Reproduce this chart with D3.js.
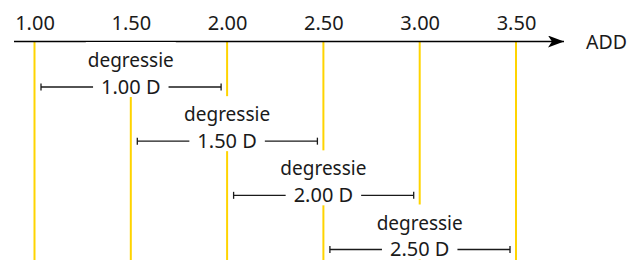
<!DOCTYPE html>
<html>
<head>
<meta charset="utf-8">
<script src="https://cdn.jsdelivr.net/npm/d3@7"></script>
<style>
  body { margin: 0; background: #fff; }
  svg { display: block; font-family: "Noto Sans", sans-serif; }
</style>
</head>
<body>
<script>
// ADD values (ticks) and their labels
var addValues = [1.0, 1.5, 2.0, 2.5, 3.0, 3.5];
var tickLabels = ["1.00", "1.50", "2.00", "2.50", "3.00", "3.50"];
// degression ranges: from ADD, to ADD, label
var degStart = [1.0, 1.5, 2.0, 2.5];
var degEnd = [2.0, 2.5, 3.0, 3.5];
var degLabels = ["1.00 D", "1.50 D", "2.00 D", "2.50 D"];
var axisTitle = "ADD";
var degTitle = "degressie";

var width = 631, height = 260;
var axisY = 41.5;

var x = d3.scaleLinear()
  .domain([1.0, 3.5])
  .range([34.5, 516]);

var row = d3.scaleLinear()
  .domain([0, 3])
  .range([87, 249.5]);

var svg = d3.select("body").append("svg")
  .attr("width", width)
  .attr("height", height);

var yellow = "#ffd400";
var ink = "#1a1a1a";

// vertical guide lines
svg.append("g")
  .selectAll("line")
  .data(addValues)
  .enter().append("line")
  .attr("x1", function (d) { return x(d); })
  .attr("x2", function (d) { return x(d); })
  .attr("y1", axisY)
  .attr("y2", height)
  .attr("stroke", yellow)
  .attr("stroke-width", 2);

// arrow marker
svg.append("defs").append("marker")
  .attr("id", "arrow")
  .attr("viewBox", "0 0 16 12")
  .attr("refX", 16)
  .attr("refY", 6)
  .attr("markerUnits", "userSpaceOnUse")
  .attr("markerWidth", 16)
  .attr("markerHeight", 12)
  .attr("orient", "auto")
  .append("path")
  .attr("d", "M0,0 L16,6 L0,12 L4,6 Z")
  .attr("fill", "#000");

// axis labels via d3.axisTop
var axis = d3.axisTop(x)
  .tickValues(addValues)
  .tickFormat(function (d, i) { return tickLabels[i]; })
  .tickSize(0)
  .tickPadding(12);

var gAxis = svg.append("g")
  .attr("transform", "translate(0," + axisY + ")")
  .call(axis);

gAxis.select(".domain").remove();
gAxis.selectAll("text")
  .attr("font-size", 20)
  .attr("font-family", "Noto Sans, sans-serif")
  .attr("fill", ink);

svg.append("line")
  .attr("x1", 14)
  .attr("x2", 564)
  .attr("y1", axisY)
  .attr("y2", axisY)
  .attr("stroke", "#000")
  .attr("stroke-width", 1.6)
  .attr("marker-end", "url(#arrow)");

svg.append("text")
  .attr("x", 586)
  .attr("y", axisY + 7)
  .attr("font-size", 19.5)
  .attr("fill", ink)
  .text(axisTitle);

// degression blocks
var blocks = svg.append("g")
  .selectAll("g")
  .data(degStart)
  .enter().append("g");

blocks.each(function (d, i) {
  var g = d3.select(this);
  var x0 = x(d), x1 = x(degEnd[i]);
  var cx = (x0 + x1) / 2;
  var y = row(i);

  // white mask over the middle guide line
  g.append("rect")
    .attr("x", cx - 45)
    .attr("y", y - 45)
    .attr("width", 90)
    .attr("height", 55)
    .attr("fill", "#fff");

  g.append("text")
    .attr("x", cx)
    .attr("y", y - 20)
    .attr("text-anchor", "middle")
    .attr("font-size", 19)
    .attr("fill", ink)
    .text(degTitle);

  var lbl = g.append("text")
    .attr("x", cx)
    .attr("y", y + 6.5)
    .attr("text-anchor", "middle")
    .attr("font-size", 20)
    .attr("fill", ink)
    .text(degLabels[i]);

  var half = lbl.node().getComputedTextLength() / 2 + 8;
  var a = x0 + 6.5, b = x1 - 6;

  [[a, cx - half], [cx + half, b]].forEach(function (s) {
    g.append("line")
      .attr("x1", s[0]).attr("x2", s[1])
      .attr("y1", y).attr("y2", y)
      .attr("stroke", ink)
      .attr("stroke-width", 1.3);
  });
  [a, b].forEach(function (t) {
    g.append("line")
      .attr("x1", t).attr("x2", t)
      .attr("y1", y - 3.5).attr("y2", y + 3.5)
      .attr("stroke", ink)
      .attr("stroke-width", 1.3);
  });
});
</script>
</body>
</html>
